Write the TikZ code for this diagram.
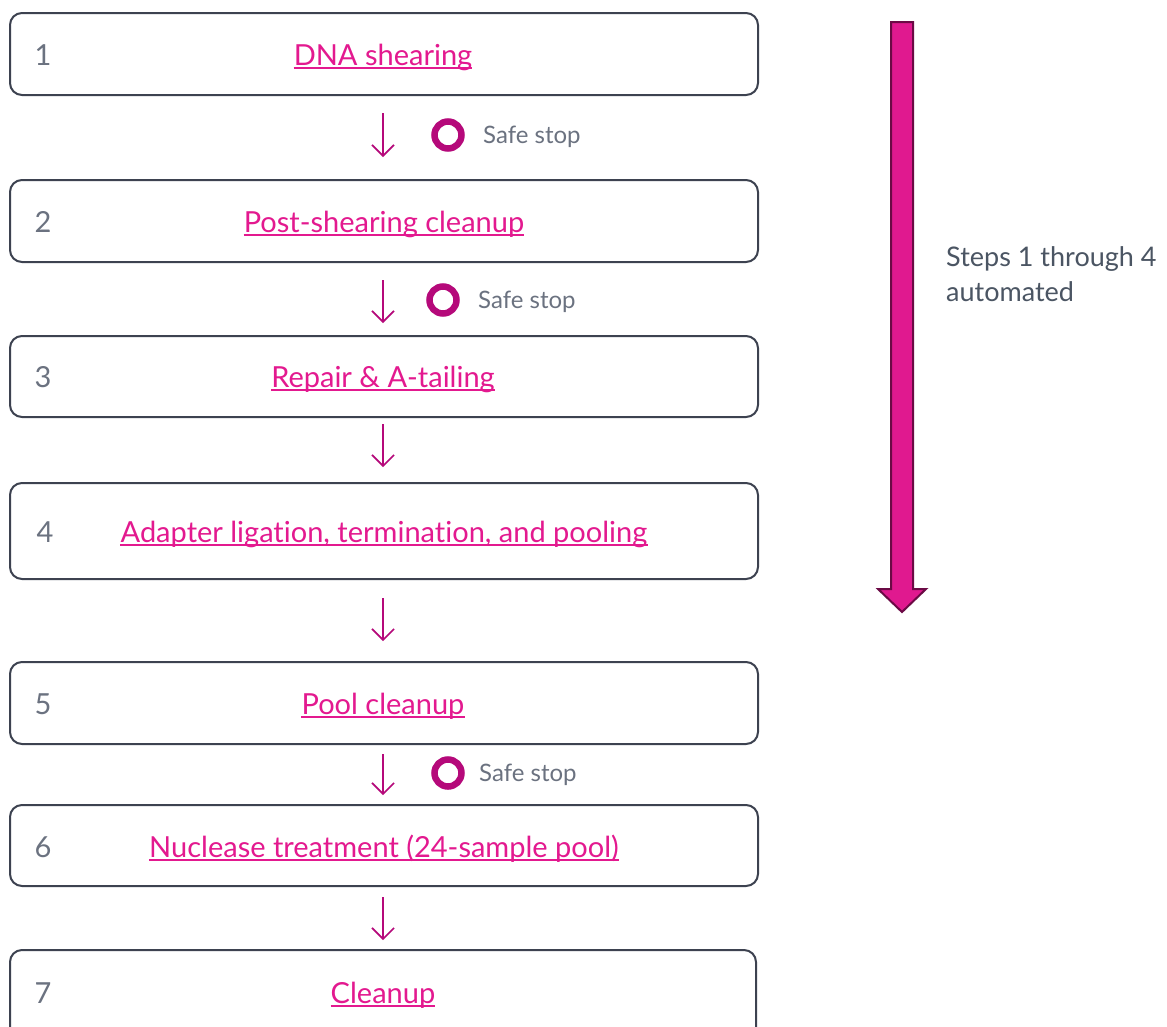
\documentclass[tikz,border=0pt]{standalone}
\usepackage{fontspec}
\setmainfont{Lato}[Ligatures={NoCommon}]
\usetikzlibrary{arrows.meta}
\definecolor{boxline}{HTML}{3D4250}
\definecolor{numgray}{HTML}{6B7280}
\definecolor{txtgray}{HTML}{4B5563}
\definecolor{linkpink}{HTML}{E3198F}
\definecolor{arrmag}{HTML}{B5097A}
\definecolor{bigfill}{HTML}{E0198F}
\definecolor{bigline}{HTML}{6B0A45}
\begin{document}
\begin{tikzpicture}[x=1pt,y=-1pt,
  stepbox/.style={draw=boxline,line width=2pt,rounded corners=12pt,fill=white},
  numtxt/.style={text=numgray,font=\fontsize{29}{34}\selectfont,anchor=base,inner sep=0pt},
  linktxt/.style={text=linkpink,font=\fontsize{29}{34}\selectfont,anchor=base,inner sep=0pt},
  uline/.style={draw=linkpink,line width=1.6pt},
  flowarrow/.style={draw=arrmag,line width=1.6pt,-{Straight Barb[length=11pt,width=22pt,line width=1.6pt]}},
  stopring/.style={circle,draw=arrmag,line width=6.5pt,minimum size=27pt,inner sep=0pt},
  stoptxt/.style={text=numgray,font=\fontsize{24}{28}\selectfont,anchor=base west,inner sep=0pt},
]
\useasboundingbox (0,0) rectangle (1167,1026);
\fill[white] (0,0) rectangle (1167,1026);
% boxes
\draw[stepbox] (10,13) rectangle (758,95);
\draw[stepbox] (10,180) rectangle (758,262);
\draw[stepbox] (10,336) rectangle (758,417);
\draw[stepbox] (10,483) rectangle (758,579);
\draw[stepbox] (10,662) rectangle (758,744);
\draw[stepbox] (10,805) rectangle (758,886);
\draw[stepbox] (10,950) rectangle (756,1040);
\node[numtxt] (n1) at (43,65) {1};
\node[numtxt] (n2) at (43,232) {2};
\node[numtxt] (n3) at (43,387) {3};
\node[numtxt] (n4) at (45,542) {4};
\node[numtxt] (n5) at (43,714) {5};
\node[numtxt] (n6) at (43,857) {6};
\node[numtxt] (n7) at (43,1003) {7};
\node[linktxt] (s1) at (383,65) {DNA shearing};
\node[linktxt] (s2) at (384,232) {Post-shearing cleanup};
\node[linktxt] (s3) at (383,387) {Repair \& A-tailing};
\node[linktxt] (s4) at (384,542) {Adapter ligation, termination, and pooling};
\node[linktxt] (s5) at (383,714) {Pool cleanup};
\node[linktxt] (s6) at (384,857) {Nuclease treatment (24-sample pool)};
\node[linktxt] (s7) at (383,1003) {Cleanup};
\foreach \s in {s1,s2,s3,s4,s5,s6,s7}
  \draw[uline] ([yshift=-3pt]\s.base west) -- ([yshift=-3pt]\s.base east);
% flow arrows
\coordinate (a1s) at (383,113); \coordinate (a1e) at (383,157);
\coordinate (a2s) at (383,280); \coordinate (a2e) at (383,323);
\coordinate (a3s) at (383,424); \coordinate (a3e) at (383,467);
\coordinate (a4s) at (383,598); \coordinate (a4e) at (383,641);
\coordinate (a5s) at (383,754); \coordinate (a5e) at (383,795);
\coordinate (a6s) at (383,897); \coordinate (a6e) at (383,940);
\draw[flowarrow] (a1s) -- (a1e);
\draw[flowarrow] (a2s) -- (a2e);
\draw[flowarrow] (a3s) -- (a3e);
\draw[flowarrow] (a4s) -- (a4e);
\draw[flowarrow] (a5s) -- (a5e);
\draw[flowarrow] (a6s) -- (a6e);
% safe stops
\node[stopring] (r1) at (448,135) {};
\node[stoptxt] (t1) at (483,143) {Safe stop};
\node[stopring] (r2) at (443,300) {};
\node[stoptxt] (t2) at (478,308) {Safe stop};
\node[stopring] (r3) at (448,773) {};
\node[stoptxt] (t3) at (479,781) {Safe stop};
% big arrow
\draw[fill=bigfill,draw=bigline,line width=2pt,line join=miter]
  (891,22) -- (913,22) -- (913,589) -- (926,589) -- (902,612) -- (878,589) -- (891,589) -- cycle;
\node[text=txtgray,font=\fontsize{27}{35}\selectfont,align=left,anchor=base west,inner sep=0pt] (auto) at (946,301) {Steps 1 through 4\\automated};
\end{tikzpicture}
\end{document}
